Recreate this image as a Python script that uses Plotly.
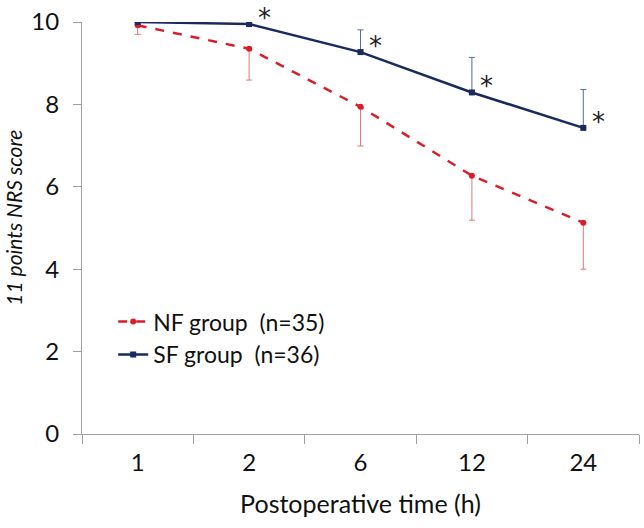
import plotly.graph_objects as go

categories = ["1", "2", "6", "12", "24"]
nf_values = [9.92, 9.35, 7.94, 6.27, 5.13]
nf_err_minus = [0.22, 0.76, 0.95, 1.08, 1.13]
sf_values = [10.0, 9.95, 9.27, 8.29, 7.43]
sf_err_plus = [0.0, 0.0, 0.54, 0.85, 0.93]
star_flags = [False, True, True, True, True]

NAVY = "#1b2a5c"
RED = "#d81e2c"
FONT = "Lato"

fig = go.Figure()
fig.add_trace(go.Scatter(
    x=categories, y=nf_values, name="NF group  (n=35)", mode="lines+markers",
    line=dict(color=RED, width=2.5, dash="dash"),
    marker=dict(symbol="circle", size=6, color=RED),
    error_y=dict(type="data", symmetric=False, array=[0]*5, arrayminus=nf_err_minus,
                 color="#e8737b", thickness=1, width=3),
))
fig.add_trace(go.Scatter(
    x=categories, y=sf_values, name="SF group  (n=36)", mode="lines+markers",
    line=dict(color=NAVY, width=2.5),
    marker=dict(symbol="square", size=6, color=NAVY),
    error_y=dict(type="data", symmetric=False, array=sf_err_plus, arrayminus=[0]*5,
                 color="#5b6a96", thickness=1, width=3),
))

for i, (v, f) in enumerate(zip(sf_values, star_flags)):
    if f:
        fig.add_annotation(x=i, y=v, xref="x", yref="y", text="*", showarrow=False,
                           xshift=15, yshift=6,
                           font=dict(family="DejaVu Sans", size=26, color="#222"))

fig.add_annotation(x=-0.122, y=0.525, xref="paper", yref="paper", text="<i>11 points NRS score</i>",
                   textangle=-90, showarrow=False, xanchor="center", yanchor="middle",
                   font=dict(family=FONT, size=21, color="#111"))

fig.update_layout(
    width=644, height=528,
    margin=dict(l=82, r=5, t=22, b=94),
    paper_bgcolor="white", plot_bgcolor="white",
    font=dict(family=FONT, size=24, color="#111"),
    showlegend=True,
    legend=dict(x=0.056, y=0.325, xanchor="left", yanchor="top", tracegroupgap=0,
                bgcolor="rgba(0,0,0,0)", font=dict(family=FONT, size=23, color="#111")),
    xaxis=dict(
        type="category", range=[-0.5, 4.5], showline=True, linecolor="#a0a0a0", linewidth=1,
        ticks="outside", tickson="boundaries", ticklen=9, tickcolor="#a0a0a0",
        showgrid=False, zeroline=False, tickfont=dict(size=24), automargin=False,
        ticklabelstandoff=7,
        title=dict(text="Postoperative time (h)", font=dict(family=FONT, size=25), standoff=20),
    ),
    yaxis=dict(
        range=[0, 10], tickvals=[0, 2, 4, 6, 8, 10], showline=True, linecolor="#a0a0a0", linewidth=1,
        ticks="outside", ticklen=8, tickcolor="#a0a0a0", showgrid=False, zeroline=False,
        tickfont=dict(size=24), automargin=False, ticklabelstandoff=9,
    ),
)

fig.write_html("out.html", config={"displayModeBar": False},
               post_script="document.body.style.margin='0';")
